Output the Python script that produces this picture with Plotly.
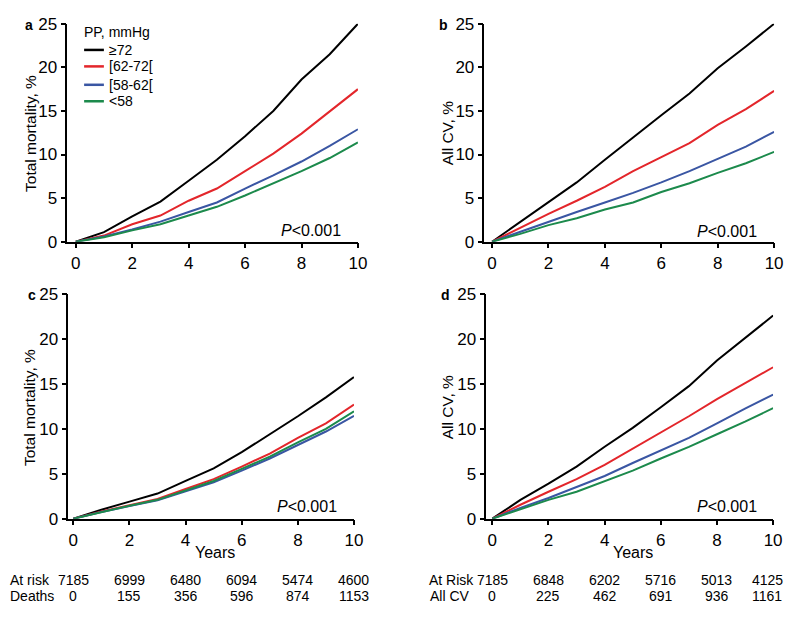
import plotly.graph_objects as go

# ---------------- data ----------------
years = [0, 1, 2, 3, 4, 5, 6, 7, 8, 9, 10]
groups = ["≥72", "[62-72[", "[58-62[", "&lt;58"]
colors = ["#000000", "#e3262b", "#3a56a3", "#1c8a4c"]

# a: total mortality (all patients)
a_ge72 = [0, 1.1, 2.9, 4.6, 7.0, 9.4, 12.1, 15.0, 18.6, 21.5, 25.0]
a_62_72 = [0, 0.7, 2.0, 3.0, 4.7, 6.1, 8.1, 10.1, 12.4, 15.0, 17.5]
a_58_62 = [0, 0.6, 1.4, 2.3, 3.4, 4.5, 6.1, 7.6, 9.2, 11.0, 12.9]
a_lt58 = [0, 0.5, 1.3, 2.0, 3.0, 4.0, 5.3, 6.7, 8.1, 9.6, 11.4]

# b: all CV
b_ge72 = [0, 2.3, 4.5, 6.8, 9.4, 12.0, 14.5, 17.0, 19.9, 22.4, 25.0]
b_62_72 = [0, 1.6, 3.2, 4.7, 6.3, 8.1, 9.7, 11.3, 13.4, 15.2, 17.3]
b_58_62 = [0, 1.15, 2.3, 3.4, 4.5, 5.6, 6.8, 8.1, 9.5, 10.9, 12.6]
b_lt58 = [0, 0.9, 1.9, 2.7, 3.7, 4.5, 5.7, 6.7, 7.9, 9.0, 10.3]

# c: total mortality (adjusted)
c_ge72 = [0, 1.0, 1.9, 2.8, 4.2, 5.6, 7.4, 9.4, 11.4, 13.5, 15.75]
c_62_72 = [0, 0.8, 1.5, 2.2, 3.3, 4.4, 5.8, 7.25, 9.0, 10.6, 12.7]
c_58_62 = [0, 0.75, 1.4, 2.05, 3.05, 4.05, 5.35, 6.7, 8.2, 9.7, 11.45]
c_lt58 = [0, 0.75, 1.45, 2.1, 3.15, 4.2, 5.55, 6.9, 8.5, 10.0, 11.95]

# d: all CV (adjusted)
d_ge72 = [0, 2.1, 3.9, 5.8, 8.0, 10.1, 12.4, 14.75, 17.6, 20.1, 22.6]
d_62_72 = [0, 1.55, 3.0, 4.4, 6.0, 7.8, 9.6, 11.4, 13.3, 15.1, 16.85]
d_58_62 = [0, 1.2, 2.3, 3.5, 4.75, 6.2, 7.6, 9.0, 10.6, 12.25, 13.8]
d_lt58 = [0, 1.05, 2.1, 3.0, 4.2, 5.35, 6.7, 8.0, 9.4, 10.8, 12.3]

risk_years = [0, 2, 4, 6, 8, 10]
c_at_risk = [7185, 6999, 6480, 6094, 5474, 4600]
c_deaths = [0, 155, 356, 596, 874, 1153]
d_at_risk = [7185, 6848, 6202, 5716, 5013, 4125]
d_all_cv = [0, 225, 462, 691, 936, 1161]

# ---------------- figure ----------------
# page body has an 8px margin, so the figure is 16px smaller than the window
# and positions below are given in window pixels
OFF = 8
W, H = 800 - 2 * OFF, 620 - 2 * OFF
FONT = "Liberation Sans, Arial, sans-serif"

def px_x(v):
    return (v - OFF) / W

def px_y(v):
    return 1 - (v - OFF) / H

panels = [
    # series, axis suffix, x domain px, y domain px, x range start
    ([a_ge72, a_62_72, a_58_62, a_lt58], "", (68, 362), (15, 240), -0.3),
    ([b_ge72, b_62_72, b_58_62, b_lt58], "2", (490, 783), (15, 240), -0.27),
    ([c_ge72, c_62_72, c_58_62, c_lt58], "3", (69, 358), (294, 526), -0.18),
    ([d_ge72, d_62_72, d_58_62, d_lt58], "4", (492, 782), (294, 526), -0.21),
]

fig = go.Figure()
layout = {}
for idx, (series, s, xd, yd, x0) in enumerate(panels):
    for name, vals, col in zip(groups, series, colors):
        fig.add_trace(go.Scatter(x=years, y=vals, mode="lines", name=name,
                                 line=dict(color=col, width=2),
                                 xaxis="x" + s, yaxis="y" + s,
                                 showlegend=False, hoverinfo="skip"))
    axis_common = dict(showline=True, linecolor="black", linewidth=1.5,
                       ticks="outside", ticklen=5, tickwidth=1.5, tickcolor="black",
                       showgrid=False, zeroline=False,
                       tickfont=dict(family=FONT, size=17, color="black"))
    layout["xaxis" + s] = dict(axis_common, domain=[px_x(xd[0]), px_x(xd[1])],
                               range=[x0, 10], tickvals=[0, 2, 4, 6, 8, 10],
                               anchor="y" + s)
    layout["yaxis" + s] = dict(axis_common, domain=[px_y(yd[1]), px_y(yd[0])],
                               range=[0, 25], tickvals=[0, 5, 10, 15, 20, 25],
                               anchor="x" + s)

fig.update_layout(**layout)

ann = []
shapes = []


def note(text, x, y, size, xanchor="center", angle=0):
    ann.append(dict(text=text, x=px_x(x), y=px_y(y), xref="paper", yref="paper",
                    xanchor=xanchor, yanchor="middle", textangle=angle, showarrow=False,
                    font=dict(family=FONT, size=size, color="black")))


# panel letters
for lab, x, y in [("a", 29, 16), ("b", 449, 16), ("c", 32, 295), ("d", 451, 295)]:
    note("<b>%s</b>" % lab, x, y, 14)
# y axis titles
for txt, x, y in [("Total mortality, %", 30, 128), ("All CV, %", 452, 128),
                  ("Total mortality, %", 30, 411), ("All CV, %", 452, 411)]:
    note(txt, x, y, 15.5, angle=-90)
# x axis titles
for x in (217, 640):
    note("Years", x, 561, 16)
# p-values
for x, y in [(347, 228), (768, 229), (343, 513), (768, 513)]:
    note("<i>P</i>&lt;0.001", x, y, 16, xanchor="right")

# legend (panel a)
note("PP, mmHg", 83, 23, 14, xanchor="left")
for i, (name, col) in enumerate(zip(groups, colors)):
    ly = [42, 59, 78, 95][i]
    shapes.append(dict(type="line", xref="paper", yref="paper",
                       x0=px_x(85), x1=px_x(105), y0=px_y(ly), y1=px_y(ly),
                       line=dict(color=col, width=2.5)))
    note(name, 108, ly, 14, xanchor="left")

# numbers at risk tables
for lab, x, y in [("At risk", OFF, 589), ("Deaths", OFF, 606), ("At Risk", 432, 589), ("All CV", 433, 606)]:
    note(lab, x, y, 14, xanchor="left")
for xr, row1, row2 in [("x3", c_at_risk, c_deaths), ("x4", d_at_risk, d_all_cv)]:
    for yr, v1, v2 in zip(risk_years, row1, row2):
        for v, ypx in ((v1, 589), (v2, 606)):
            ann.append(dict(text=str(v), x=yr, xref=xr, y=px_y(ypx), yref="paper",
                            xanchor="center", yanchor="middle", showarrow=False,
                            xshift=-6 if (xr == "x4" and yr == 10) else 0,
                            font=dict(family=FONT, size=14, color="black")))

fig.update_layout(
    width=W, height=H,
    margin=dict(l=0, r=0, t=0, b=0),
    paper_bgcolor="white", plot_bgcolor="white",
    font=dict(family=FONT, color="black"),
    annotations=ann,
    shapes=shapes,
    showlegend=False,
)

fig.write_html("out.html")
